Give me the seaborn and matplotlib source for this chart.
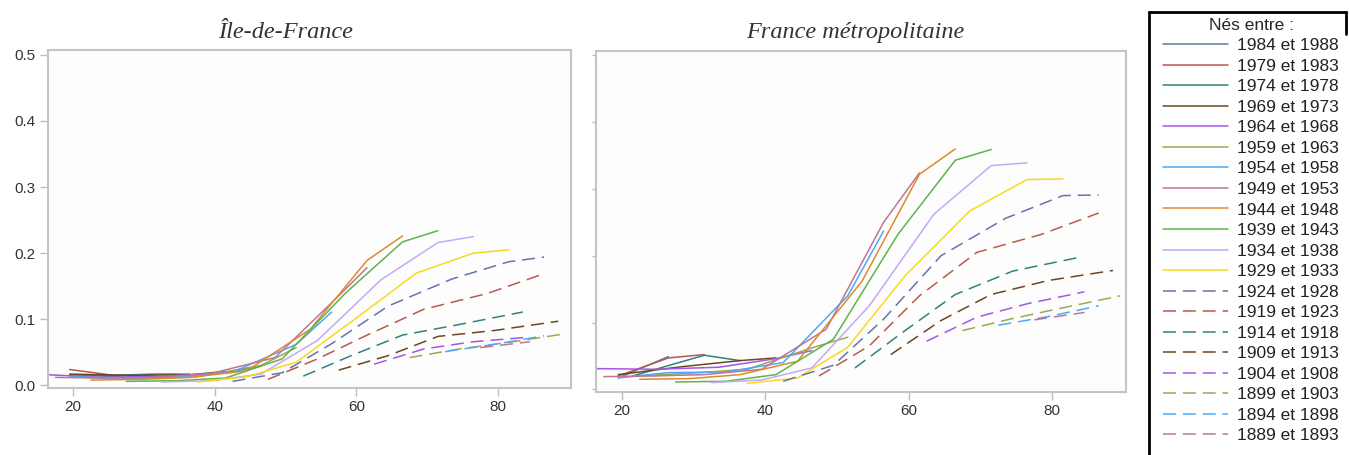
import matplotlib
matplotlib.use("Agg")
import matplotlib.pyplot as plt
from matplotlib.lines import Line2D
import pandas as pd
import seaborn as sns

# Birth cohorts (5-year groups), youngest first
cohorts = ["1984 et 1988", "1979 et 1983", "1974 et 1978", "1969 et 1973",
           "1964 et 1968", "1959 et 1963", "1954 et 1958", "1949 et 1953",
           "1944 et 1948", "1939 et 1943", "1934 et 1938", "1929 et 1933",
           "1924 et 1928", "1919 et 1923", "1914 et 1918", "1909 et 1913",
           "1904 et 1908", "1899 et 1903", "1894 et 1898", "1889 et 1893"]

# Ages at which each cohort is observed
a1984 = [19.5, 26.5]
a1979 = [19.5, 26.5, 31.5]
a1974 = [21.5, 31.5, 36.5]
a1969 = [19.5, 28.5, 36.5, 41.5]
a1964 = [16.5, 24.5, 33.5, 41.5, 46.5]
a1959 = [21.5, 29.5, 37.5, 46.5, 51.5]
a1954 = [19.5, 26.5, 34.5, 42.5, 51.5, 56.5]
a1949 = [17.5, 24.5, 31.5, 39.5, 48.5, 56.5, 61.5]
a1944 = [22.5, 29.5, 36.5, 44.5, 53.5, 61.5, 66.5]
a1939 = [27.5, 34.5, 41.5, 49.5, 58.5, 66.5, 71.5]
a1934 = [32.5, 39.5, 46.5, 54.5, 63.5, 71.5, 76.5]
a1929 = [37.5, 44.5, 51.5, 59.5, 68.5, 76.5, 81.5]
a1924 = [42.5, 49.5, 56.5, 64.5, 73.5, 81.5, 86.5]
a1919 = [47.5, 54.5, 61.5, 69.5, 78.5, 86.5]
a1914 = [52.5, 59.5, 66.5, 74.5, 83.5]
a1909 = [57.5, 64.5, 71.5, 79.5, 88.5]
a1904 = [62.5, 69.5, 76.5, 84.5]
a1899 = [67.5, 74.5, 81.5, 89.5]
a1894 = [72.5, 79.5, 86.5]
a1889 = [77.5, 84.5]

# Île-de-France
i1984 = [0.016, 0.013]
i1979 = [0.024, 0.014, 0.015]
i1974 = [0.014, 0.017, 0.017]
i1969 = [0.017, 0.015, 0.016, 0.021]
i1964 = [0.016, 0.012, 0.014, 0.019, 0.029]
i1959 = [0.012, 0.011, 0.013, 0.030, 0.057]
i1954 = [0.013, 0.011, 0.012, 0.020, 0.062, 0.111]
i1949 = [0.012, 0.011, 0.012, 0.018, 0.042, 0.125, 0.178]
i1944 = [0.008, 0.009, 0.012, 0.022, 0.085, 0.189, 0.226]
i1939 = [0.006, 0.007, 0.011, 0.040, 0.140, 0.217, 0.234]
i1934 = [0.005, 0.007, 0.017, 0.068, 0.160, 0.216, 0.225]
i1929 = [0.005, 0.013, 0.035, 0.098, 0.170, 0.200, 0.205]
i1924 = [0.006, 0.019, 0.063, 0.120, 0.161, 0.187, 0.194]
i1919 = [0.009, 0.040, 0.076, 0.115, 0.139, 0.169]
i1914 = [0.014, 0.046, 0.076, 0.092, 0.111]
i1909 = [0.023, 0.045, 0.074, 0.083, 0.097]
i1904 = [0.032, 0.055, 0.066, 0.073]
i1899 = [0.042, 0.055, 0.065, 0.078]
i1894 = [0.051, 0.062, 0.075]
i1889 = [0.057, 0.066]

# France métropolitaine
f1984 = [0.017, 0.049]
f1979 = [0.020, 0.047, 0.052]
f1974 = [0.020, 0.051, 0.043]
f1969 = [0.022, 0.034, 0.043, 0.047]
f1964 = [0.031, 0.030, 0.033, 0.046, 0.058]
f1959 = [0.020, 0.024, 0.030, 0.062, 0.078]
f1954 = [0.017, 0.025, 0.026, 0.040, 0.140, 0.237]
f1949 = [0.019, 0.020, 0.022, 0.030, 0.090, 0.250, 0.324]
f1944 = [0.015, 0.016, 0.022, 0.042, 0.162, 0.322, 0.360]
f1939 = [0.011, 0.012, 0.022, 0.075, 0.232, 0.343, 0.359]
f1934 = [0.010, 0.014, 0.032, 0.125, 0.262, 0.335, 0.339]
f1929 = [0.009, 0.017, 0.063, 0.170, 0.267, 0.314, 0.315]
f1924 = [0.012, 0.036, 0.105, 0.200, 0.256, 0.290, 0.291]
f1919 = [0.020, 0.065, 0.140, 0.205, 0.232, 0.264]
f1914 = [0.032, 0.088, 0.142, 0.177, 0.197]
f1909 = [0.052, 0.103, 0.142, 0.163, 0.178]
f1904 = [0.072, 0.108, 0.128, 0.146]
f1899 = [0.088, 0.106, 0.122, 0.140]
f1894 = [0.096, 0.109, 0.125]
f1889 = [0.104, 0.115]

ages = [a1984, a1979, a1974, a1969, a1964, a1959, a1954, a1949, a1944, a1939,
        a1934, a1929, a1924, a1919, a1914, a1909, a1904, a1899, a1894, a1889]
idf = [i1984, i1979, i1974, i1969, i1964, i1959, i1954, i1949, i1944, i1939,
       i1934, i1929, i1924, i1919, i1914, i1909, i1904, i1899, i1894, i1889]
fra = [f1984, f1979, f1974, f1969, f1964, f1959, f1954, f1949, f1944, f1939,
       f1934, f1929, f1924, f1919, f1914, f1909, f1904, f1899, f1894, f1889]

base_colors = ["#6574AD", "#B9594D", "#2F847D", "#6A4622", "#A655EA", "#9CA84E",
               "#4DA9FA", "#C07496", "#DE8A2C", "#5DB54A", "#C5A8F6", "#F8D91E"]
colors = base_colors + base_colors[:8]
palette = dict(zip(cohorts, colors))
dash_pat = (8.5, 4.5)
dashes = {c: ("" if k < 12 else dash_pat) for k, c in enumerate(cohorts)}

rows = []
for c, ag, vi, vf in zip(cohorts, ages, idf, fra):
    for x, y in zip(ag, vi):
        rows.append(("Île-de-France", c, x, y))
    for x, y in zip(ag, vf):
        rows.append(("France métropolitaine", c, x, y))
df = pd.DataFrame(rows, columns=["zone", "cohorte", "age", "part"])

sns.set_theme(style="white")
plt.rcParams["font.family"] = ["Liberation Sans", "DejaVu Sans"]

fig = plt.figure(figsize=(13.49, 4.55), dpi=100)
fig.patch.set_facecolor("white")
ax1 = fig.add_axes([0.03536, 0.1473, 0.3879, 0.7422])
ax2 = fig.add_axes([0.4418, 0.1385, 0.3929, 0.7501])

panels = [(ax1, "Île-de-France", 0.455), (ax2, "France métropolitaine", 0.489)]
for ax, zone, tx in panels:
    sub = df[df["zone"] == zone]
    sns.lineplot(data=sub, x="age", y="part", hue="cohorte", style="cohorte",
                 hue_order=cohorts, style_order=cohorts, palette=palette,
                 dashes=dashes, estimator=None, sort=False, legend=False,
                 linewidth=1.1, ax=ax)
    ax.set_facecolor("#FDFDFD")
    ax.set_xlim(16.4, 90.3)
    ax.set_ylim(-0.004, 0.507)
    ax.set_xticks([20, 40, 60, 80])
    ax.set_yticks([0.0, 0.1, 0.2, 0.3, 0.4, 0.5])
    ax.set_xlabel("")
    ax.set_ylabel("")
    for sp in ax.spines.values():
        sp.set_color("#C4C4C4")
        sp.set_linewidth(1.5)
    ax.tick_params(direction="out", length=6, width=1, color="#BDBDBD",
                   labelsize=11, labelcolor="#333333", pad=3,
                   bottom=True, left=True)
    ax.set_title(zone, x=tx, pad=9, fontsize=17.5, style="italic",
                 family=["Liberation Serif", "DejaVu Serif"], color="#333333")

ax1.set_yticklabels(["0.0", "0.1", "0.2", "0.3", "0.4", "0.5"])
ax2.set_yticklabels([])
ax2.tick_params(axis="y", length=3)

handles = [Line2D([], [], color=palette[c], lw=1.1,
                  linestyle="-" if dashes[c] == "" else (0, dash_pat))
           for c in cohorts]
leg = fig.legend(handles, cohorts, title="Nés entre :", loc="upper left",
                 bbox_to_anchor=(0.862, 0.961), frameon=False, fontsize=12.5,
                 title_fontsize=12.5, handlelength=3.75, handletextpad=0.55,
                 labelspacing=0.31, borderaxespad=0, borderpad=0)
for t in leg.get_texts():
    t.set_color("#222222")

# Legend frame: left and top edges plus a short right stub
x0, x1, ytop = 1149 / 1349, 1346 / 1349, 1 - 12 / 455
fig.add_artist(Line2D([x0, x0], [0, ytop], color="black", lw=2, transform=fig.transFigure))
fig.add_artist(Line2D([x0, x1], [ytop, ytop], color="black", lw=2, transform=fig.transFigure))
fig.add_artist(Line2D([x1, x1], [ytop, 1 - 34 / 455], color="black", lw=2, transform=fig.transFigure))

fig.savefig("out.png", dpi=100, facecolor="white")
